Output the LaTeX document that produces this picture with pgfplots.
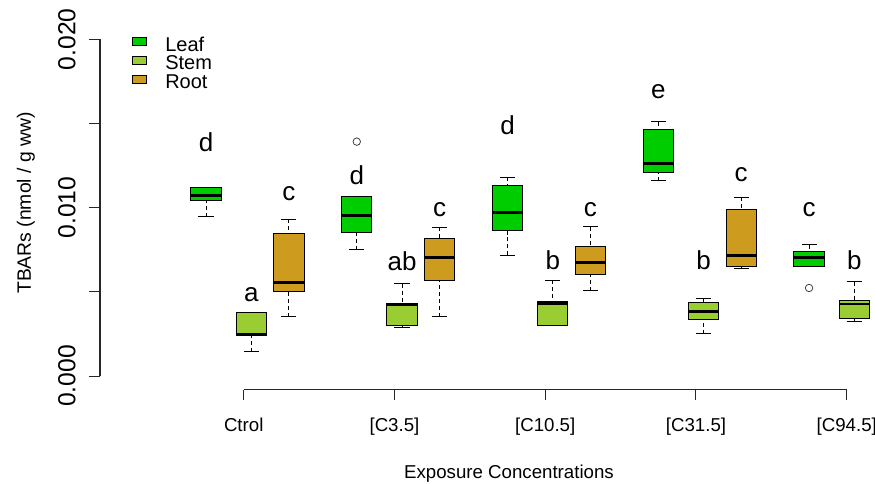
\documentclass[border=0pt]{standalone}
\usepackage{pgfplots}
\pgfplotsset{compat=1.18}
\usepgfplotslibrary{statistics}
\usepackage{fontspec}
\setmainfont{Liberation Sans}

\definecolor{leaf}{RGB}{0,205,0}
\definecolor{stem}{RGB}{154,205,50}
\definecolor{root}{RGB}{205,155,29}

% R-like boxplot: dashed whisker stems, solid caps, thick median
\pgfplotsset{
  rbox/.style={
    draw=black, line width=0.75pt,
    mark=o, mark size=2.8pt, mark options={solid, line width=0.6pt, draw=black!75, fill=none},
    boxplot/draw direction=y,
    boxplot/box extend=0.8,
    boxplot/whisker extend=0.4,
    boxplot/every box/.style={fill=#1},
    boxplot/every median/.style={line width=2.2pt},
    boxplot/draw/lower whisker/.code={%
      \draw[dash pattern=on 3pt off 2.2pt]
        (boxplot box cs:\pgfplotsboxplotvalue{lower whisker},0.5) --
        (boxplot box cs:\pgfplotsboxplotvalue{lower quartile},0.5);
      \draw (boxplot whisker cs:\pgfplotsboxplotvalue{lower whisker},0) --
        (boxplot whisker cs:\pgfplotsboxplotvalue{lower whisker},1);
    },
    boxplot/draw/upper whisker/.code={%
      \draw[dash pattern=on 3pt off 2.2pt]
        (boxplot box cs:\pgfplotsboxplotvalue{upper whisker},0.5) --
        (boxplot box cs:\pgfplotsboxplotvalue{upper quartile},0.5);
      \draw (boxplot whisker cs:\pgfplotsboxplotvalue{upper whisker},0) --
        (boxplot whisker cs:\pgfplotsboxplotvalue{upper whisker},1);
    },
  },
}

\begin{document}
\begin{tikzpicture}
\path[use as bounding box] (0,0) rectangle (656.25pt,-362.25pt);
\begin{axis}[
  at={(75pt,-292.125pt)}, anchor=south west,
  scale only axis, width=581.25pt, height=272.775pt,
  xmin=0.187, xmax=20.75, ymin=-0.0008, ymax=0.0208,
  clip=false,
  axis line style={draw=none},
  xtick={4,8,12,16,20},
  xticklabels={Ctrol,{[C3.5]},{[C10.5]},{[C31.5]},{[C94.5]}},
  ytick={0,0.005,0.01,0.015,0.02},
  yticklabels={0.000,,0.010,,0.020},
  scaled y ticks=false,
  xtick pos=bottom, ytick pos=left,
  tick align=outside, major tick length=8pt,
  tick style={black!85, line width=0.75pt},
  xticklabel style={font=\fontsize{14}{16}\selectfont, anchor=base, inner sep=0pt},
  xticklabel shift=23.6pt,
  yticklabel style={font=\fontsize{18.5}{22}\selectfont, rotate=90, anchor=south, inner sep=0pt},
  yticklabel shift=10pt,
  /pgf/number format/assume math mode=true,
]
\draw[black!85, line width=0.75pt] (axis cs:4,-0.0008) -- (axis cs:20,-0.0008);
\draw[black!85, line width=0.75pt] (axis cs:0.187,0) -- (axis cs:0.187,0.02);

% Ctrol
\addplot[rbox=leaf, boxplot prepared={draw position=3.0, lower whisker=0.00947, lower quartile=0.01040, median=0.01072, upper quartile=0.01120, upper whisker=0.01120}] coordinates {};
\addplot[rbox=stem, boxplot prepared={draw position=4.2, lower whisker=0.00144, lower quartile=0.00238, median=0.00248, upper quartile=0.00378, upper whisker=0.00378}] coordinates {};
\addplot[rbox=root, boxplot prepared={draw position=5.2, lower whisker=0.00351, lower quartile=0.00501, median=0.00554, upper quartile=0.00844, upper whisker=0.00931}] coordinates {};
% [C3.5]
\addplot[rbox=leaf, boxplot prepared={draw position=7.0, lower whisker=0.00750, lower quartile=0.00855, median=0.00956, upper quartile=0.01069, upper whisker=0.01069}] table[row sep=\\, y index=0] {data\\ 0.01392\\};
\addplot[rbox=stem, boxplot prepared={draw position=8.2, lower whisker=0.00287, lower quartile=0.00303, median=0.00422, upper quartile=0.00428, upper whisker=0.00548}] coordinates {};
\addplot[rbox=root, boxplot prepared={draw position=9.2, lower whisker=0.00351, lower quartile=0.00566, median=0.00703, upper quartile=0.00816, upper whisker=0.00885}] coordinates {};
% [C10.5]
\addplot[rbox=leaf, boxplot prepared={draw position=11.0, lower whisker=0.00717, lower quartile=0.00866, median=0.00970, upper quartile=0.01133, upper whisker=0.01180}] coordinates {};
\addplot[rbox=stem, boxplot prepared={draw position=12.2, lower whisker=0.00299, lower quartile=0.00299, median=0.00432, upper quartile=0.00441, upper whisker=0.00569}] coordinates {};
\addplot[rbox=root, boxplot prepared={draw position=13.2, lower whisker=0.00507, lower quartile=0.00602, median=0.00675, upper quartile=0.00772, upper whisker=0.00887}] coordinates {};
% [C31.5]
\addplot[rbox=leaf, boxplot prepared={draw position=15.0, lower whisker=0.01160, lower quartile=0.01208, median=0.01261, upper quartile=0.01463, upper whisker=0.01511}] coordinates {};
\addplot[rbox=stem, boxplot prepared={draw position=16.2, lower whisker=0.00251, lower quartile=0.00337, median=0.00386, upper quartile=0.00435, upper whisker=0.00462}] coordinates {};
\addplot[rbox=root, boxplot prepared={draw position=17.2, lower whisker=0.00640, lower quartile=0.00649, median=0.00717, upper quartile=0.00990, upper whisker=0.01063}] coordinates {};
% [C94.5]
\addplot[rbox=leaf, boxplot prepared={draw position=19.0, lower whisker=0.00649, lower quartile=0.00649, median=0.00703, upper quartile=0.00737, upper whisker=0.00780}] table[row sep=\\, y index=0] {data\\ 0.00523\\};
\addplot[rbox=stem, boxplot prepared={draw position=20.2, lower whisker=0.00321, lower quartile=0.00343, median=0.00428, upper quartile=0.00447, upper whisker=0.00560}] coordinates {};

% significance letters
\addplot[only marks, mark=none, nodes near coords, point meta=explicit symbolic,
  nodes near coords align={anchor=base},
  every node near coord/.append style={inner sep=0pt, font=\fontsize{19.5}{23}\selectfont}]
  table[meta=lab] {
x y lab
3.0 0.01332 d
4.2 0.00441 a
5.2 0.01045 c
7.0 0.01135 d
8.2 0.00626 ab
9.2 0.00946 c
11.0 0.01432 d
12.2 0.00630 b
13.2 0.00946 c
15.0 0.01650 e
16.2 0.00630 b
17.2 0.01154 c
19.0 0.00946 c
20.2 0.00630 b
};
\end{axis}

\begin{scope}[x=0.75pt, y=-0.75pt]
\draw[line width=0.6pt, fill=leaf] (132.3,37.7) rectangle (146.7,45.7);
\draw[line width=0.6pt, fill=stem] (132.3,56.7) rectangle (146.7,64.5);
\draw[line width=0.6pt, fill=root] (132.3,75.7) rectangle (146.7,83.5);
\node[anchor=base west, inner sep=0pt, font=\fontsize{15}{18}\selectfont] at (165,51) {Leaf};
\node[anchor=base west, inner sep=0pt, font=\fontsize{15}{18}\selectfont] at (165,69.8) {Stem};
\node[anchor=base west, inner sep=0pt, font=\fontsize{15}{18}\selectfont] at (165,88.6) {Root};
\node[anchor=base, inner sep=0pt, font=\fontsize{14}{17}\selectfont] at (509,478.3) {Exposure Concentrations};
\node[rotate=90, anchor=base, inner sep=0pt, font=\fontsize{14.5}{17}\selectfont] at (31,203) {TBARs (nmol / g ww)};
\end{scope}
\end{tikzpicture}
\end{document}
